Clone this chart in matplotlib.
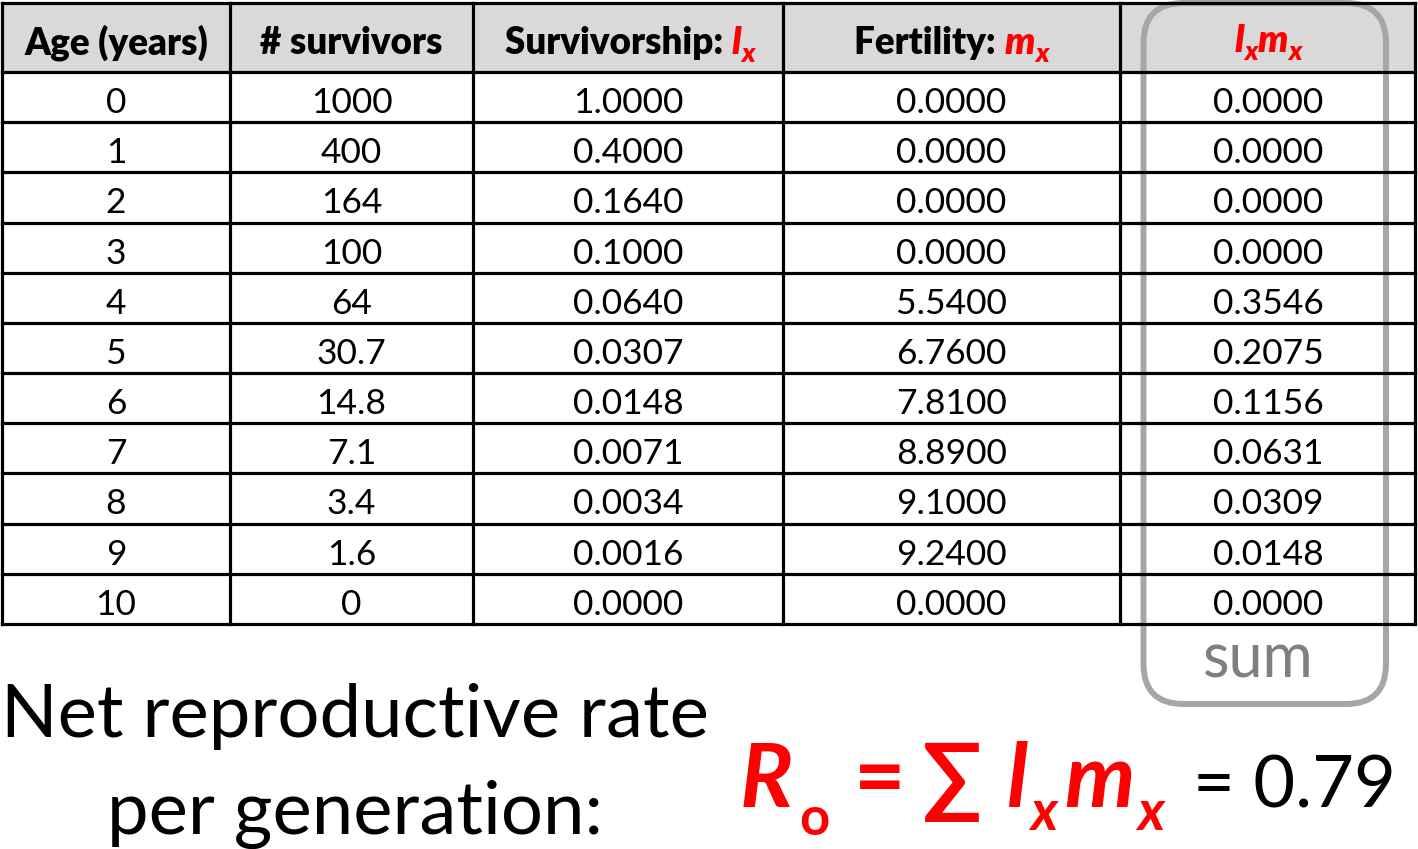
import numpy as np
import matplotlib
matplotlib.use("Agg")
import matplotlib.pyplot as plt
from matplotlib.patches import Rectangle, FancyBboxPatch

plt.rcParams['font.family'] = ['Lato', 'DejaVu Sans']

# table data
ages = [0, 1, 2, 3, 4, 5, 6, 7, 8, 9, 10]
survivors = ["1000", "400", "164", "100", "64", "30.7", "14.8", "7.1", "3.4", "1.6", "0"]
lx = [1.0, 0.4, 0.164, 0.1, 0.064, 0.0307, 0.0148, 0.0071, 0.0034, 0.0016, 0.0]
mx = [0.0, 0.0, 0.0, 0.0, 5.54, 6.76, 7.81, 8.89, 9.10, 9.24, 0.0]
lxmx = [0.0, 0.0, 0.0, 0.0, 0.3546, 0.2075, 0.1156, 0.0631, 0.0309, 0.0148, 0.0]
R0 = sum(lxmx)

RED = '#ff0000'
col_edges = [2, 230, 473, 783, 1120, 1415]
row_edges = np.linspace(72, 624, len(ages) + 1)
header_top = 3

fig = plt.figure(figsize=(14.18, 8.49), dpi=100)
ax = fig.add_axes([0, 0, 1, 1])
ax.set_xlim(0, 1418)
ax.set_ylim(849, 0)
ax.axis('off')
renderer = fig.canvas.get_renderer()


def run(x, y, pieces, ha='center'):
    # draw a row of text pieces side by side, (text, kwargs, dy)
    widths = []
    for txt, kw, dy in pieces:
        t = ax.text(0, 0, txt, **kw)
        widths.append(t.get_window_extent(renderer).width)
        t.remove()
    total = sum(widths)
    x0 = x - total / 2 if ha == 'center' else x
    for (txt, kw, dy), w in zip(pieces, widths):
        ax.text(x0, y + dy, txt, ha='left', va='baseline', **kw)
        x0 += w


# header background
ax.add_patch(Rectangle((col_edges[0], header_top), col_edges[-1] - col_edges[0],
                       row_edges[0] - header_top, facecolor='#d9d9d9', edgecolor='none'))

# grid lines
lw = 2.3
for xe in col_edges:
    ax.plot([xe, xe], [header_top, row_edges[-1]], color='black', lw=lw, solid_capstyle='projecting')
for ye in [header_top] + list(row_edges):
    ax.plot([col_edges[0], col_edges[-1]], [ye, ye], color='black', lw=lw, solid_capstyle='projecting')

centers = [(col_edges[i] + col_edges[i + 1]) / 2 for i in range(5)]
hb = 54  # header baseline
hfs = 26.5
bold = dict(fontsize=hfs, fontweight='heavy', color='black')
rbi = dict(fontsize=hfs + 1, fontweight='heavy', style='italic', color=RED)
rsub = dict(fontsize=hfs * 0.72, fontweight='heavy', style='italic', color=RED)

run(centers[0], hb, [("Age (years)", bold, 0)])
run(centers[1], hb, [("# survivors", bold, 0)])
run(centers[2] + 2, hb, [("Survivorship: ", bold, 0), ("l", rbi, 0), ("x", rsub, 8)])
run(centers[3], hb, [("Fertility: ", bold, 0), ("m", rbi, 0), ("x", rsub, 8)])
run(1268, hb - 2, [("l", rbi, 0), ("x", rsub, 8), ("m", rbi, 0), ("x", rsub, 8)])

# body rows
bfs = 25.5
for i in range(len(ages)):
    yb = row_edges[i] + 41
    vals = [str(ages[i]), survivors[i], "%.4f" % lx[i], "%.4f" % mx[i], "%.4f" % lxmx[i]]
    for j, v in enumerate(vals):
        xc = centers[j] + (1 if j == 4 else 0)
        if j == 4:
            xc = 1268
        ax.text(xc, yb, v, ha='center', va='baseline', fontsize=bfs, color='black')

# rounded grey box around lxmx column
ax.add_patch(FancyBboxPatch((1143.5, 3), 1386 - 1143.5, 704 - 3,
                            boxstyle="round,pad=0,rounding_size=40",
                            facecolor='none', edgecolor='#a6a6a6', lw=4.3))
ax.text(1258, 678, "sum", ha='center', va='baseline', fontsize=44, color='#7f7f7f')

# bottom text
ax.text(355, 737, "Net reproductive rate", ha='center', va='baseline', fontsize=53.5, color='black')
ax.text(355, 834, "per generation:", ha='center', va='baseline', fontsize=53.5, color='black')

# formula
big = dict(fontsize=64, fontweight='bold', style='italic', color=RED)
bigup = dict(fontsize=64, fontweight='bold', color=RED)
sub = dict(fontsize=40, fontweight='bold', style='italic', color=RED)
subo = dict(fontsize=38, fontweight='bold', color=RED)
fb = 807
ax.text(740, fb, "R", ha='left', va='baseline', **big)
ax.text(799, fb + 28, "o", ha='left', va='baseline', **subo)
ax.text(854, fb, "=", ha='left', va='baseline', **bigup)
ax.text(922, fb, "\u2211", ha='left', va='baseline', **bigup)
ax.text(1006, fb, "l", ha='left', va='baseline', **big)
ax.text(1030, fb + 23, "x", ha='left', va='baseline', **sub)
ax.text(1064, fb, "m", ha='left', va='baseline', **big)
ax.text(1137, fb + 23, "x", ha='left', va='baseline', **sub)
ax.text(1193, fb, "= %.2f" % R0, ha='left', va='baseline', fontsize=52, color='black')

fig.savefig("out.png", dpi=100)
